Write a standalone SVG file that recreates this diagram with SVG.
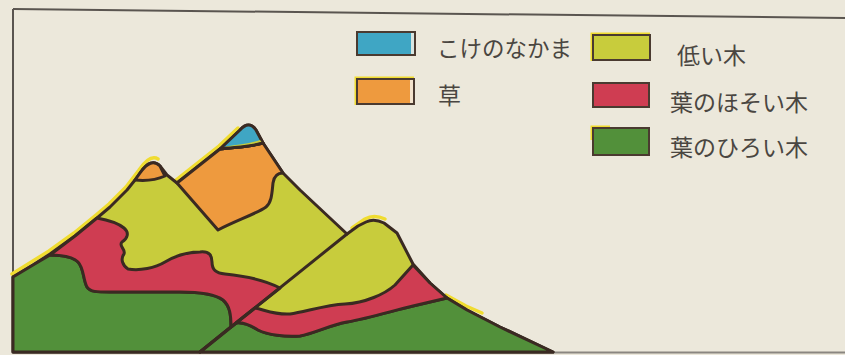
<svg xmlns="http://www.w3.org/2000/svg" width="845" height="355" viewBox="0 0 845 355">
  <style>
    .ink { stroke: #3a2a22; stroke-width: 3; stroke-linejoin: round; stroke-linecap: round; }
    .moss { fill: #3fa6c4; }
    .grass { fill: #ee9a3e; }
    .shrub { fill: #c8cc3c; }
    .needle { fill: #cf3d52; }
    .broad { fill: #52903a; }
    .misprint { fill: none; stroke: #f0dc30; stroke-width: 3.5; stroke-linecap: round; stroke-linejoin: round; }
    .label { font-family: "Noto Sans CJK JP", "Noto Sans", sans-serif; fill: #4a4641; }
    .swatch { stroke: #4a3a30; stroke-width: 2; }
    .shine { fill: #f3f0e6; opacity: 0.85; }
  </style>

  <!-- paper -->
  <rect width="845" height="355" fill="#ece8db"/>

  <!-- frame -->
  <g id="frame" fill="none" stroke="#5a5550" stroke-width="2">
    <path d="M13,9 L845,18"/>
    <path d="M13,9 L13,352"/>
    <path d="M13,352.5 L845,352.5" stroke="#8a8680"/>
  </g>

  <!-- mountains -->
  <g id="mountains">
    <!-- offset yellow ink along the sunlit slopes -->
    <g id="misprint">
      <path class="misprint" d="M12,274 L49,251 L74,233 L96,215 L109,204 L126,187 L139,170 Q150,154 158,159"/>
      <path class="misprint" d="M176,180 L219,146 L238,128"/>
      <path class="misprint" d="M352,228 L365,219 Q374,214 385,219"/>
      <path class="misprint" d="M446,295 L466,306 L482,313"/>
    </g>

    <!-- whole silhouette: low trees -->
    <path id="silhouette" class="shrub ink" d="M13,277 L33,265 L50,254 L75,236 L97,218 L110,207 L127,190 L135,180 L140,173 Q151,157 160,166 L167,175 L177,183 L220,149 L240,130 Q249,120 256,130 L263,143 L283,173 L300,190 L347,234 L358,226 L366,222 Q374,218 384,223 L397,233 L413,264 L430,283 L447,298 L467,310 L500,327 L553,352 L13,352 Z"/>

    <!-- broad-leaf forest, left hill -->
    <path id="broad-left" class="broad ink" d="M13,277 L33,265 L50,255 C60,255 72,256 78,262 C84,268 83,280 87,287 C90,292 97,292 110,292 L180,292 C200,292 215,294 223,300 C230,306 231,315 231,327 L200,352 L13,352 Z"/>

    <!-- broad-leaf forest, right hill -->
    <path id="broad-right" class="broad ink" d="M200,352 L236,323 C243,322 250,325 258,330 C268,335 285,337 300,336 C315,333 330,325 347,322 C370,318 395,310 413,306 L447,298 L467,310 L500,327 L553,352 Z"/>

    <!-- needle-leaf forest, left hill -->
    <path id="needle-left" class="needle ink" d="M50,255 L75,236 L97,218 C108,220 118,223 124,228 C130,233 127,239 122,242 C118,246 126,249 124,254 C120,259 123,266 128,269 C140,271 155,268 165,262 C175,256 185,252 200,252 C210,251 212,256 212,262 C212,270 216,273 225,274 C245,276 265,280 280,288 L231,327 C231,315 230,306 223,300 C215,294 200,292 180,292 L110,292 C97,292 90,292 87,287 C83,280 84,268 78,262 C72,256 60,255 50,255 Z"/>

    <!-- needle-leaf forest, right hill -->
    <path id="needle-right" class="needle ink" d="M255,308 C265,310 275,315 290,314 C305,312 325,305 345,304 C365,303 385,294 395,285 L413,265 L430,283 L447,298 L413,306 C395,310 370,318 347,322 C330,325 315,333 300,336 C285,337 268,335 258,330 C250,325 243,322 236,323 Z"/>

    <!-- front ridge of the right hill -->
    <path id="ridge" class="ink" fill="none" d="M347,234 L200,352"/>

    <!-- grass on the high peak -->
    <path id="grass-high" class="grass ink" d="M177,183 L220,149 C235,147 250,147 263,143 L283,173 C278,173 274,176 273,183 C272,192 272,202 266,207 C258,213 235,221 218,230 Z"/>

    <!-- grass on the small peak -->
    <path id="grass-small" class="grass ink" d="M135,180 L140,173 Q151,157 160,166 L165,176 C156,180 145,181 135,180 Z"/>

    <!-- moss cap on the summit -->
    <path id="moss-cap" class="moss ink" d="M220,149 L240,130 Q249,120 256,130 L263,143 C250,147 235,147 220,149 Z"/>
    <path class="shrub" d="M226,146.5 C238,144.5 250,143.5 260,140 L261.5,142 C250,145.5 238,146.5 226,147.5 Z"/>
    <path fill="none" class="ink" d="M220,149 C235,147 250,147 263,143"/>
  </g>

  <!-- legend -->
  <g id="legend">
    <g id="legend-moss">
      <rect class="moss swatch" x="357" y="32" width="58" height="23"/>
      <rect class="shine" x="411" y="33" width="3" height="21"/>
      <text class="label" x="437" y="57" font-size="22.5">こけのなかま</text>
    </g>
    <g id="legend-grass">
      <path d="M356,105 L356,78 L414,78" fill="none" stroke="#f0dc30" stroke-width="3"/>
      <rect class="grass swatch" x="357" y="79" width="57" height="25"/>
      <rect class="shine" x="410" y="80" width="3" height="23"/>
      <text class="label" x="438" y="104" font-size="23">草</text>
    </g>
    <g id="legend-shrub">
      <path d="M592,61 L592,34 L650,34" fill="none" stroke="#f0dc30" stroke-width="3"/>
      <rect class="shrub swatch" x="593" y="35" width="57" height="25"/>
      <text class="label" x="677" y="64" font-size="23">低い木</text>
    </g>
    <g id="legend-needle">
      <rect class="needle swatch" x="593" y="83" width="56" height="24"/>
      <text class="label" x="670" y="111" font-size="23">葉のほそい木</text>
    </g>
    <g id="legend-broad">
      <path d="M592,140 L592,127 L610,127" fill="none" stroke="#f0dc30" stroke-width="3"/>
      <rect class="broad swatch" x="593" y="128" width="56" height="27"/>
      <text class="label" x="670" y="156" font-size="23">葉のひろい木</text>
    </g>
  </g>
</svg>
